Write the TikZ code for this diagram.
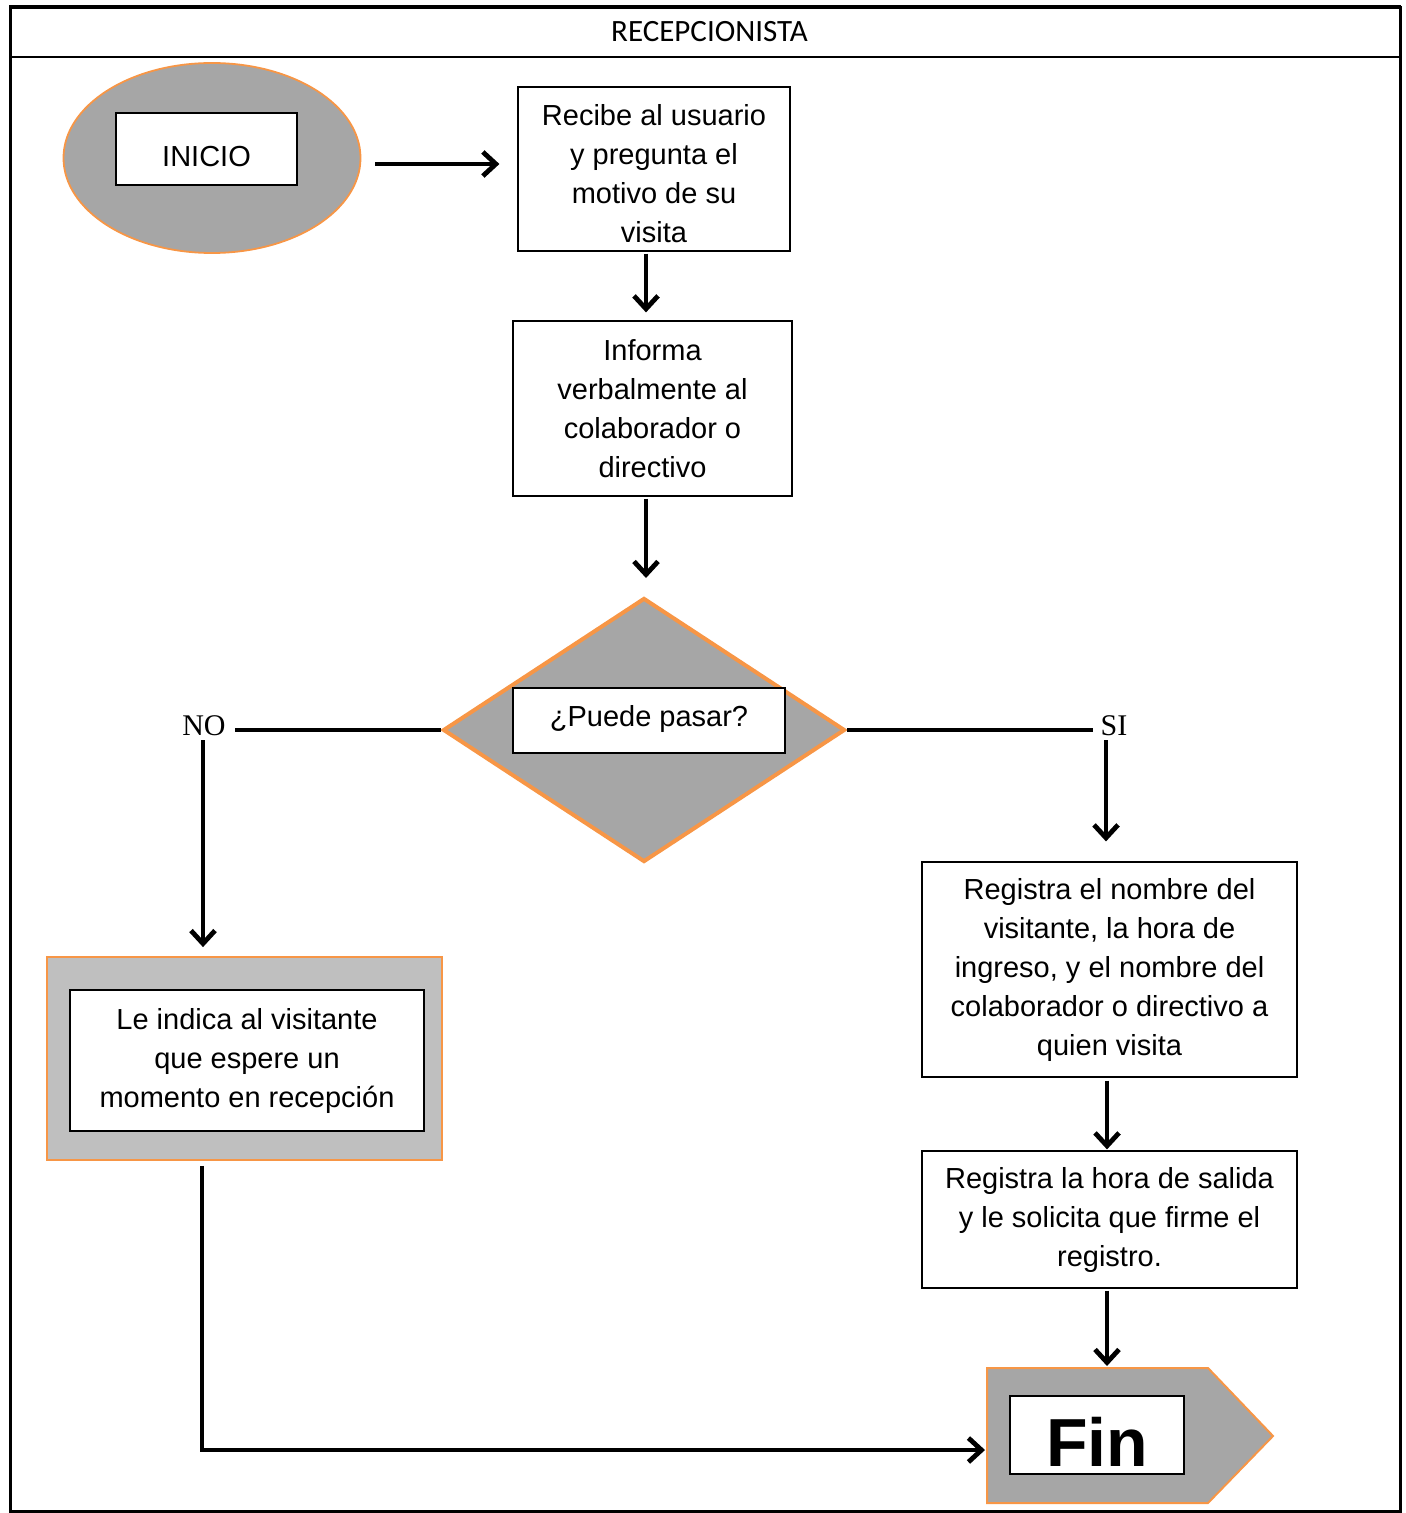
\documentclass[tikz,border=0pt]{standalone}
\usepackage{fontspec}
\setmainfont{Liberation Sans}
\newfontfamily\serifnt{Liberation Serif}
\newfontfamily\calfnt{Carlito}
\usetikzlibrary{arrows.meta,shapes.geometric,calc}
\newcommand\flowtext{\fontsize{14.5}{19.5}\selectfont}
\definecolor{shapegray}{HTML}{A6A6A6}
\definecolor{lightgray2}{HTML}{BFBFBF}
\definecolor{orangeb}{HTML}{F79646}
\begin{document}
\begin{tikzpicture}[x=0.5pt,y=-0.5pt,
  flow/.style={line width=2.4pt,-{Straight Barb[length=6.5pt,width=12pt]}},
  plainline/.style={line width=2.4pt},
  box/.style={draw,line width=0.6pt,fill=white,align=center,font=\flowtext,inner sep=0pt},
  txt/.style={align=center,font=\flowtext,inner sep=0pt},
  lbl/.style={font=\serifnt\fontsize{15}{18}\selectfont,inner sep=0pt}
]
\useasboundingbox (0,0) rectangle (1406,1513);
% frame
\draw[line width=1.5pt] (10,8) rectangle (1400,1511);
\draw[line width=2.4pt] (9,7) -- (1401,7);
\draw[line width=1pt] (10,57) -- (1400,57);
\node[font=\calfnt\fontsize{15.5}{18}\selectfont] (title) at (709.5,32) {RECEPCIONISTA};

% start
\node[ellipse,draw=orangeb,line width=0.9pt,fill=shapegray,minimum width=148.5pt,minimum height=95pt,inner sep=0pt] (start) at (212,158) {};
\node[box,minimum width=90.5pt,minimum height=36pt] (inicio) at (206.5,149) {};
\node[txt] (iniciot) at (206.5,157) {INICIO};

% boxes
\node[box,minimum width=136pt,minimum height=82pt] (b1) at (654,169) {};
\node[txt] (b1t) at (654,173.5) {Recibe al usuario\\y pregunta el\\motivo de su\\visita};
\node[box,minimum width=139.5pt,minimum height=87.5pt] (b2) at (652.5,408.5)
  {Informa\\verbalmente al\\colaborador o\\directivo};

% decision
\node[diamond,draw=orangeb,line width=2pt,fill=shapegray,minimum width=201pt,minimum height=132pt,inner sep=0pt] (dec) at (644,730) {};
\node[box,minimum width=136pt,minimum height=32.5pt] (q) at (649,720.5) {};
\node[txt] (qt) at (649,719) {¿Puede pasar?};

\node[lbl] (no) at (204,726) {NO};
\node[lbl] (si) at (1114,726) {SI};

% left branch
\node[draw=orangeb,line width=0.9pt,fill=lightgray2,minimum width=197.5pt,minimum height=101.5pt,inner sep=0pt] (lbox) at (244.5,1058.5) {};
\node[box,minimum width=177pt,minimum height=70.5pt] (wait) at (247,1060.5)
  {Le indica al visitante\\que espere un\\momento en recepción};

% right branch
\node[box,minimum width=187.5pt,minimum height=107.5pt] (r1) at (1109.5,969.5)
  {Registra el nombre del\\visitante, la hora de\\ingreso, y el nombre del\\colaborador o directivo a\\quien visita};
\node[box,minimum width=187.5pt,minimum height=68.5pt] (r2) at (1109.5,1219.5)
  {Registra la hora de salida\\y le solicita que firme el\\registro.};

% end
\draw[draw=orangeb,line width=1pt,fill=shapegray] (987,1368) -- (1208,1368) -- (1273,1436) -- (1208,1503) -- (987,1503) -- cycle;
\coordinate (finL) at (987,1450);
\coordinate (finT) at (1107,1368);
\node[box,minimum width=87pt,minimum height=39pt] (fin) at (1097,1435) {};
\node[txt,font=\bfseries\fontsize{34}{36}\selectfont] (fint) at (1097,1442) {Fin};

% connector anchor points
\coordinate (c1) at ($(b1.south)+(-8,0)$);
\coordinate (c2) at ($(b2.south)+(-6.5,0)$);
\coordinate (c3) at ($(no.south)+(-1,0)$);
\coordinate (c4) at ($(si.south)+(-8,0)$);
\coordinate (c5) at ($(r1.south)+(-2.5,0)$);
\coordinate (c6) at ($(r2.south)+(-2.5,0)$);
\coordinate (c7) at ($(lbox.south)+(-42.5,0)$);
\coordinate (c0) at (start.east |- 0,164);

% connectors
\draw[flow,shorten <=7pt,shorten >=9pt] (c0) -- (c0 -| b1.west);
\draw[flow,shorten <=1pt,shorten >=4pt] (c1) -- (c1 |- b2.north);
\draw[flow,shorten <=1pt,shorten >=9pt] (c2) -- (c2 |- dec.north);
\draw[plainline] (dec.west) -- ($(no.east)+(9,4)$);
\draw[flow,shorten <=2pt,shorten >=4.5pt] (c3) -- (c3 |- lbox.north);
\draw[plainline] (dec.east) -- ($(si.west)+(-7,4)$);
\draw[flow,shorten <=2pt,shorten >=10pt] (c4) -- (c4 |- r1.north);
\draw[flow,shorten <=1.5pt,shorten >=0.5pt] (c5) -- (c5 |- r2.north);
\draw[flow,shorten <=1pt,shorten >=1pt] (c6) -- (finT);
\draw[flow,shorten <=2.5pt,shorten >=1pt] (c7) |- (finL);
\end{tikzpicture}
\end{document}
